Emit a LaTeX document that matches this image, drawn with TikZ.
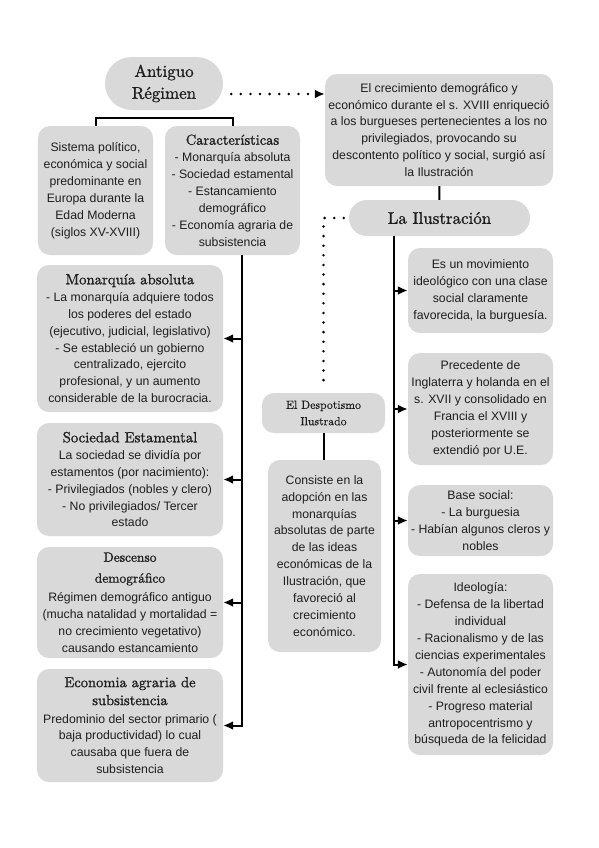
\documentclass[tikz,border=0pt]{standalone}
\usepackage{fontspec}
\newfontfamily\bodyfont{Liberation Sans}
\newfontfamily\ttlfont{lmroman10-regular.otf}[FakeBold=1.2]
\newfontfamily\despfont{lmroman10-regular.otf}[FakeBold=0.4]
\usetikzlibrary{arrows.meta,shapes.misc}
\definecolor{boxgray}{RGB}{217,217,217}
\definecolor{inkgray}{RGB}{30,30,30}
\newcommand{\ttl}[2][14.8]{{\ttlfont\fontsize{#1}{17}\selectfont #2}}

\begin{document}
\begin{tikzpicture}[x=1bp, y=-1bp,
    box/.style={fill=boxgray, rounded corners=12bp, align=center, inner sep=2bp,
        text=inkgray, font=\bodyfont\fontsize{12.3}{17}\selectfont},
    pill/.style={fill=boxgray, shape=rounded rectangle, align=center, inner sep=2bp,
        text=inkgray},
    link/.style={line width=2bp, black},
    arr/.style={link, -{Latex[length=10bp,width=9bp]}},
    dots/.style={line width=2.8bp, line cap=round, dash pattern=on 0bp off 9.6bp}]
        \useasboundingbox (0,0) rectangle (599,848);

        % Top boxes
        \node[pill, minimum width=122bp, minimum height=53bp,
            font=\ttlfont\fontsize{17}{22}\selectfont] (antiguo) at (164,83.5) {Antiguo\\Régimen};
        \node[box, minimum width=115bp, minimum height=129bp] (sistema) at (95.5,190.5)
            {Sistema político,\\económica y social\\predominante en\\Europa durante la\\Edad Moderna\\(siglos XV-XVIII)};
        \node[box, minimum width=135bp, minimum height=129bp] (caract) at (232.5,190.5)
            {\ttl[14.5]{Características}\\- Monarquía absoluta\\- Sociedad estamental\\- Estancamiento\\demográfico\\- Economía agraria de\\subsistencia};
        \node[box, minimum width=228bp, minimum height=112bp] (crec) at (439,130)
            {El crecimiento demográfico y\\económico durante el s. XVIII enriqueció\\a los burgueses pertenecientes a los no\\privilegiados, provocando su\\descontento político y social, surgió así\\la Ilustración};
        \node[pill, minimum width=185bp, minimum height=36bp,
            font=\ttlfont\fontsize{17}{22}\selectfont] (ilus) at (439.5,218) {La Ilustración};

        % Left column
        \node[box, minimum width=186bp, minimum height=147bp] (monar) at (130,338.5)
            {\ttl{Monarquía absoluta}\\- La monarquía adquiere todos\\los poderes del estado\\(ejecutivo, judicial, legislativo)\\- Se estableció un gobierno\\centralizado, ejercito\\profesional, y un aumento\\considerable de la burocracia.};
        \node[box, minimum width=186bp, minimum height=113bp] (socied) at (130,479.5)
            {\ttl{Sociedad Estamental}\\La sociedad se dividía por\\estamentos (por nacimiento):\\- Privilegiados (nobles y clero)\\- No privilegiados/ Tercer\\estado};
        \node[box, minimum width=186bp, minimum height=111bp] (desc) at (130,602.5)
            {\ttl[13.5]{Descenso}\\[4bp]\ttl[13.5]{demográfico}\\[2bp]Régimen demográfico antiguo\\(mucha natalidad y mortalidad =\\no crecimiento vegetativo)\\causando estancamiento};
        \node[box, minimum width=186bp, minimum height=113bp] (econ) at (130,725.5)
            {\ttl[14.6]{Economia agraria de}\\[1bp]\ttl[14.6]{subsistencia}\\[1bp]Predominio del sector primario (\\baja productividad) lo cual\\causaba que fuera de\\subsistencia};

        % Middle column
        \node[pill, shape=rectangle, rounded corners=12bp, minimum width=123bp, minimum height=40bp,
            font=\despfont\fontsize{11.8}{16.5}\selectfont] (desp) at (323.5,413) {El Despotismo\\Ilustrado};
        \node[box, minimum width=113bp, minimum height=192bp] (consiste) at (324.5,556)
            {Consiste en la\\adopción en las\\monarquías\\absolutas de parte\\de las ideas\\económicas de la\\Ilustración, que\\favoreció al\\crecimiento\\económico.};

        % Right column
        \node[box, minimum width=145bp, minimum height=85bp] (esun) at (480.5,290.5)
            {Es un movimiento\\ideológico con una clase\\social claramente\\favorecida, la burguesía.};
        \node[box, minimum width=145bp, minimum height=112bp] (prec) at (480.5,409)
            {Precedente de\\Inglaterra y holanda en el\\s. XVII y consolidado en\\Francia el XVIII y\\posteriormente se\\extendió por U.E.};
        \node[box, minimum width=145bp, minimum height=71bp] (base) at (480.5,520.5)
            {Base social:\\- La burguesia\\- Habían algunos cleros y\\nobles};
        \node[box, minimum width=145bp, minimum height=181bp] (ideo) at (480.5,664.5)
            {Ideología:\\- Defensa de la libertad\\individual\\- Racionalismo y de las\\ciencias experimentales\\- Autonomía del poder\\civil frente al eclesiástico\\- Progreso material\\antropocentrismo y\\búsqueda de la felicidad};

        % Connectors
        \draw[link] (sistema.north) -- ++(0,-8) -| (caract.north);
        \draw[dots, -{Latex[length=10bp,width=9bp]}, shorten <=8bp]
            ([yshift=-10.5bp]antiguo.east) -- ([yshift=-10.5bp]antiguo.east -| crec.west);
        \draw[link] (crec) -- (ilus);
        \draw[dots, shorten <=5bp, shorten >=5bp] (ilus.west) -| (desp.north);
        \draw[link] (desp.south) -- (desp.south |- consiste.north);

        \coordinate (lroot) at ([xshift=9.5bp]caract.south);
        \foreach \b in {monar, socied, desc, econ} {
            \draw[arr] (lroot) |- (\b.east);
        }
        \coordinate (rroot) at ([xshift=-45.5bp]ilus.south);
        \foreach \b in {esun, prec, base, ideo} {
            \draw[arr] (rroot) |- (\b.west);
        }
    \end{tikzpicture}
\end{document}
